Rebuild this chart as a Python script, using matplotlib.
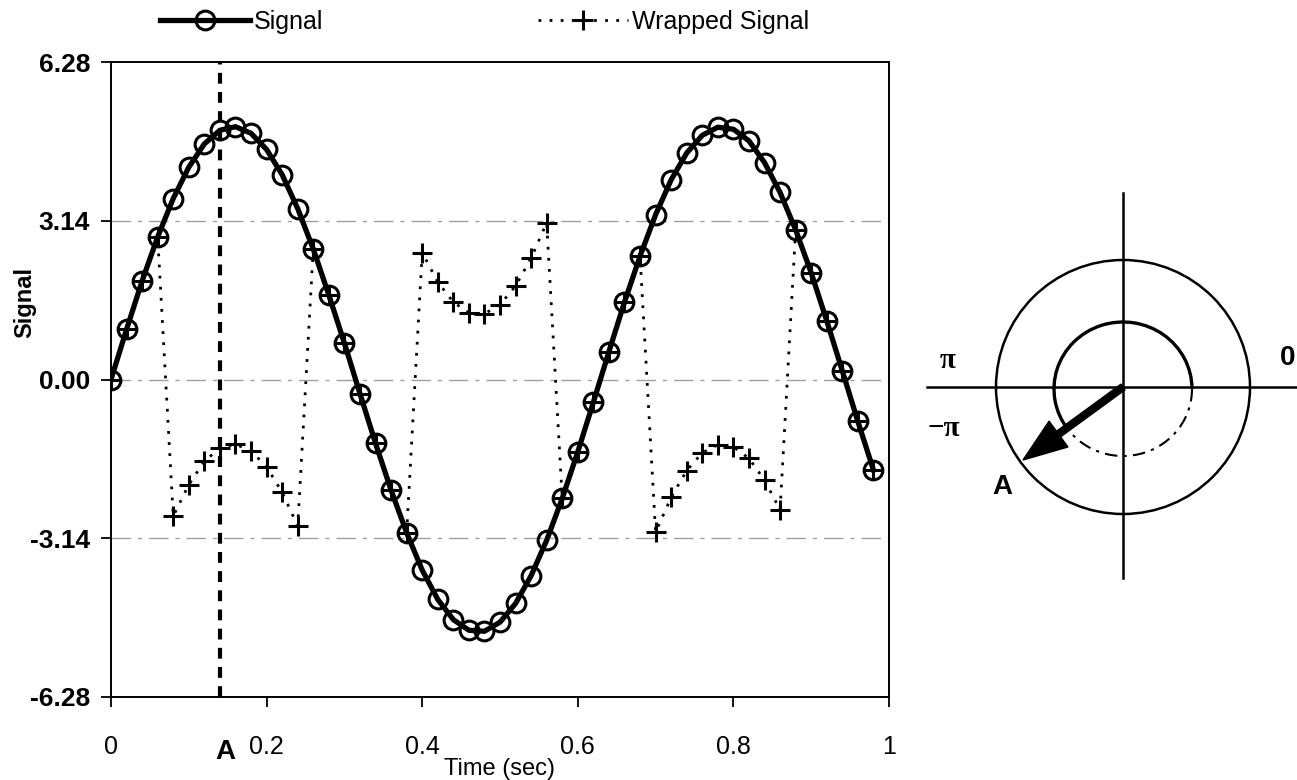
import matplotlib
matplotlib.use('Agg')
import matplotlib.pyplot as plt
from matplotlib.patches import Circle, Arc, FancyArrow

# ---------------- data ----------------
time_sec = [0.00, 0.02, 0.04, 0.06, 0.08, 0.10, 0.12, 0.14, 0.16, 0.18,
            0.20, 0.22, 0.24, 0.26, 0.28, 0.30, 0.32, 0.34, 0.36, 0.38,
            0.40, 0.42, 0.44, 0.46, 0.48, 0.50, 0.52, 0.54, 0.56, 0.58,
            0.60, 0.62, 0.64, 0.66, 0.68, 0.70, 0.72, 0.74, 0.76, 0.78,
            0.80, 0.82, 0.84, 0.86, 0.88, 0.90, 0.92, 0.94, 0.96, 0.98]
signal = [0.00, 0.99, 1.95, 2.82, 3.58, 4.20, 4.66, 4.93, 5.00, 4.87,
          4.55, 4.05, 3.38, 2.58, 1.67, 0.72, -0.28, -1.26, -2.19, -3.03,
          -3.77, -4.35, -4.75, -4.96, -4.98, -4.80, -4.43, -3.88, -3.18, -2.35,
          -1.43, -0.45, 0.55, 1.53, 2.44, 3.26, 3.95, 4.48, 4.83, 4.99,
          4.95, 4.72, 4.29, 3.70, 2.96, 2.11, 1.16, 0.17, -0.83, -1.79]
wrapped_signal = [0.00, 0.99, 1.95, 2.82, -2.70, -2.08, -1.62, -1.35, -1.28, -1.41,
                  -1.73, -2.23, -2.90, 2.58, 1.67, 0.72, -0.28, -1.26, -2.19, -3.03,
                  2.51, 1.93, 1.53, 1.32, 1.30, 1.48, 1.85, 2.40, 3.10, -2.35,
                  -1.43, -0.45, 0.55, 1.53, 2.44, -3.02, -2.33, -1.80, -1.45, -1.29,
                  -1.33, -1.56, -1.99, -2.58, 2.96, 2.11, 1.16, 0.17, -0.83, -1.79]
x_ticks = [0, 0.2, 0.4, 0.6, 0.8, 1.0]
x_tick_labels = ['0', '0.2', '0.4', '0.6', '0.8', '1']
y_ticks = [-6.28, -3.14, 0.00, 3.14, 6.28]
y_tick_labels = ['-6.28', '-3.14', '0.00', '3.14', '6.28']
grid_levels = [-3.14, 0.00, 3.14]
marker_A_time = 0.14

plt.rcParams['font.family'] = ['Liberation Sans', 'DejaVu Sans']

W, H = 1297, 780
fig = plt.figure(figsize=(W / 100, H / 100), dpi=100)
fig.patch.set_facecolor('white')

ax = fig.add_axes([111 / W, 1 - 697 / H, (889 - 111) / W, (697 - 62) / H])

for g in grid_levels:
    ax.axhline(g, color='#a0a0a0', lw=1.0, ls=(0, (14, 5, 3, 5)), zorder=1)

ax.axvline(marker_A_time, color='black', lw=3.0, ls=(0, (2.6, 2.0)), zorder=2)

l_wrap, = ax.plot(time_sec, wrapped_signal, color='black', lw=2.0,
                  ls=(0, (1, 3.0)), marker='+', ms=14, mew=2.2,
                  label='Wrapped Signal', zorder=3)
l_sig, = ax.plot(time_sec, signal, color='black', lw=3.8, marker='o', ms=13.5,
                 mfc='none', mec='black', mew=2.2, label='Signal', zorder=4)

ax.set_xlim(0, 1)
ax.set_ylim(-6.28, 6.28)
ax.set_xticks(x_ticks)
ax.set_xticklabels(x_tick_labels, fontsize=18)
ax.set_yticks(y_ticks)
ax.set_yticklabels(y_tick_labels, fontsize=19, fontweight='bold')
ax.tick_params(axis='x', direction='out', length=7, width=1.3, pad=20)
ax.tick_params(axis='y', direction='out', length=7, width=1.3, pad=8)
for s in ax.spines.values():
    s.set_linewidth(1.4)
    s.set_color('black')

# "A" marker label under the axis
ax.annotate('A', xy=(marker_A_time, 0), xycoords=('data', 'axes fraction'),
            xytext=(4, -30), textcoords='offset points', ha='center', va='top',
            fontsize=20, fontweight='bold')

fig.text(500 / W, 1 - 769 / H, 'Time (sec)', ha='center', va='center', fontsize=17)
fig.text(25 / W, 1 - 303 / H, 'Signal', ha='center', va='center', rotation=90,
         fontsize=17, fontweight='bold')

ax.legend(handles=[l_sig, l_wrap], ncol=2, loc='center left',
          bbox_to_anchor=(160 / W, 1 - 22 / H), bbox_transform=fig.transFigure,
          frameon=False, fontsize=18, handlelength=3.6, handletextpad=0.15,
          columnspacing=8.6, numpoints=1, borderaxespad=0, borderpad=0)

# ---------------- phase circle diagram ----------------
ov = fig.add_axes([0, 0, 1, 1], zorder=0)
ov.set_xlim(0, W)
ov.set_ylim(H, 0)
ov.axis('off')

cx, cy = 1123, 387
ov.plot([927, W], [cy, cy], color='black', lw=1.8)
ov.plot([cx, cx], [193, 578], color='black', lw=1.8)
ov.add_patch(Circle((cx, cy), 127, fill=False, ec='black', lw=1.8))
ov.add_patch(Arc((cx, cy + 2), 138, 134, theta1=144, theta2=360,
                 ec='black', lw=2.4))
ov.add_patch(Arc((cx, cy + 2), 138, 134, theta1=0, theta2=144,
                 ec='black', lw=1.5, ls=(0, (6, 3, 1.5, 3))))
ov.add_patch(FancyArrow(cx, cy, -100, 73, width=7, head_width=32, head_length=44,
                        length_includes_head=True, color='black'))
ov.text(948, 360, 'π', ha='center', va='center', fontsize=21, fontweight='bold',
        family=['Liberation Serif', 'DejaVu Serif'])
ov.text(944, 428, '−π', ha='center', va='center', fontsize=21, fontweight='bold',
        family=['Liberation Serif', 'DejaVu Serif'])
ov.text(1288, 358, '0', ha='center', va='center', fontsize=20, fontweight='bold')
ov.text(1002, 487, 'A', ha='center', va='center', fontsize=20, fontweight='bold')

fig.savefig('out.png', dpi=100)
